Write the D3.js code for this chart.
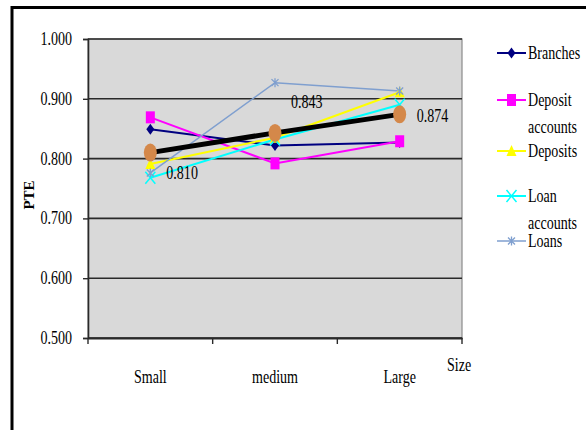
<!DOCTYPE html>
<html><head><meta charset="utf-8">
<script src="https://cdn.jsdelivr.net/npm/d3@7"></script>
<style>body{margin:0;background:#fff}svg{display:block}</style>
</head><body>
<svg id="c" width="586" height="430"></svg>
<script>
const categories = ["Small", "medium", "Large"];
const seriesNames = ["Branches", "Deposit accounts", "Deposits", "Loan accounts", "Loans"];
const branches = [0.849, 0.822, 0.827];
const depositAccounts = [0.869, 0.792, 0.829];
const deposits = [0.791, 0.835, 0.911];
const loanAccounts = [0.768, 0.832, 0.890];
const loans = [0.776, 0.927, 0.913];
const average = [0.810, 0.843, 0.874];
const yTicks = [0.5, 0.6, 0.7, 0.8, 0.9, 1.0];

const svg = d3.select("#c");
const FONT = "Liberation Serif, DejaVu Serif, serif";
function txt(g, x, y, s, opts = {}) {
  const t = g.append("text")
    .attr("transform", `translate(${x},${y}) scale(${opts.sx || 0.78},1)${opts.rot ? " rotate(" + opts.rot + ")" : ""}`)
    .style("font-family", FONT)
    .style("font-size", (opts.size || 18) + "px")
    .attr("text-anchor", opts.anchor || "start")
    .attr("fill", "#000")
    .text(s);
  if (opts.bold) t.style("font-weight", "bold");
  return t;
}

// outer frame
svg.append("path").attr("d", "M12,430 V7.5 H586").attr("fill", "none").attr("stroke", "#000").attr("stroke-width", 3);

const L = 88, R = 462, T = 39, B = 338;
const x = d3.scaleBand().domain(categories).range([L, R]);
const y = d3.scaleLinear().domain([0.5, 1.0]).range([B, T]);
const cx = c => x(c) + x.bandwidth() / 2;

svg.append("rect").attr("x", L).attr("y", T).attr("width", R - L).attr("height", B - T)
  .attr("fill", "#d9d9d9").attr("stroke", "#8a8a8a").attr("stroke-width", 1.2);

// gridlines
svg.append("g").selectAll("line").data(yTicks).join("line")
  .attr("x1", L).attr("x2", R).attr("y1", d => y(d)).attr("y2", d => y(d))
  .attr("stroke", "#2a2a2a").attr("stroke-width", 1.6);

// y axis
const yAxis = svg.append("g").attr("transform", `translate(${L},0)`)
  .call(d3.axisLeft(y).tickValues(yTicks).tickSize(5).tickFormat(""));
yAxis.select(".domain").attr("stroke", "#2a2a2a").attr("stroke-width", 1.6);
yAxis.selectAll(".tick line").attr("stroke", "#2a2a2a").attr("stroke-width", 1.4);
yTicks.forEach(v => txt(svg, 72, y(v) + 6, d3.format(".3f")(v), { anchor: "end" }));

// x axis
const xAxis = svg.append("g").attr("transform", `translate(0,${B})`)
  .call(d3.axisBottom(x).tickSize(0).tickFormat(""));
xAxis.select(".domain").attr("stroke", "#2a2a2a").attr("stroke-width", 1.8);
const bounds = [L, ...categories.map(c => x(c) + x.bandwidth())];
svg.append("g").selectAll("line").data(bounds).join("line")
  .attr("x1", d => d).attr("x2", d => d).attr("y1", B).attr("y2", B + 6)
  .attr("stroke", "#2a2a2a").attr("stroke-width", 1.4);
categories.forEach(c => txt(svg, cx(c), 383, c, { anchor: "middle" }));
txt(svg, 447, 371, "Size");
txt(svg, 34, 195, "PTE", { anchor: "middle", rot: -90, bold: true, size: 15, sx: 1 });

// series
const series = [
  { name: seriesNames[0], vals: branches, color: "#000080", w: 2, marker: "diamond" },
  { name: seriesNames[1], vals: depositAccounts, color: "#ff00ff", w: 2, marker: "square" },
  { name: seriesNames[2], vals: deposits, color: "#ffff00", w: 2, marker: "triangle" },
  { name: seriesNames[3], vals: loanAccounts, color: "#00ffff", w: 2, marker: "x" },
  { name: seriesNames[4], vals: loans, color: "#7f9fcf", w: 1.5, marker: "star" }
];
const line = d3.line().x((d, i) => cx(categories[i])).y(d => y(d));

function marker(g, type, px, py, color) {
  if (type === "diamond") {
    g.append("path").attr("d", `M${px},${py - 5.5}L${px + 4},${py}L${px},${py + 5.5}L${px - 4},${py}Z`).attr("fill", color);
  } else if (type === "square") {
    g.append("rect").attr("x", px - 4.5).attr("y", py - 6).attr("width", 9).attr("height", 12).attr("fill", color);
  } else if (type === "triangle") {
    g.append("path").attr("d", `M${px},${py - 6}L${px + 5},${py + 5}L${px - 5},${py + 5}Z`).attr("fill", color);
  } else if (type === "x") {
    g.append("path").attr("d", `M${px - 5},${py - 6}L${px + 5},${py + 6}M${px + 5},${py - 6}L${px - 5},${py + 6}`)
      .attr("stroke", color).attr("stroke-width", 1.5);
  } else if (type === "star") {
    g.append("path").attr("d", `M${px - 3.5},${py - 3.5}L${px + 3.5},${py + 3.5}M${px + 3.5},${py - 3.5}L${px - 3.5},${py + 3.5}M${px},${py - 4.5}V${py + 4.5}`)
      .attr("stroke", color).attr("stroke-width", 1.3);
  }
}

const sg = svg.append("g");
series.forEach(s => {
  sg.append("path").datum(s.vals).attr("d", line).attr("fill", "none")
    .attr("stroke", s.color).attr("stroke-width", s.w);
});
series.forEach(s => {
  s.vals.forEach((v, i) => marker(sg, s.marker, cx(categories[i]), y(v), s.color));
});

// average line
svg.append("path").datum(average).attr("d", line).attr("fill", "none")
  .attr("stroke", "#000").attr("stroke-width", 5);
svg.append("g").selectAll("ellipse").data(average).join("ellipse")
  .attr("cx", (d, i) => cx(categories[i])).attr("cy", d => y(d))
  .attr("rx", 6.5).attr("ry", 9).attr("fill", "#d4884a");
const labelOffsets = [[16, 26], [16, -25], [17, 8]];
average.forEach((v, i) => txt(svg, cx(categories[i]) + labelOffsets[i][0], y(v) + labelOffsets[i][1], d3.format(".3f")(v)));

// legend
const legendRows = [
  { lineY: 53, text: ["Branches"] },
  { lineY: 100, text: ["Deposit", "accounts"] },
  { lineY: 151, text: ["Deposits"] },
  { lineY: 196, text: ["Loan", "accounts"] },
  { lineY: 241, text: ["Loans"] }
];
series.forEach((s, i) => {
  const r = legendRows[i];
  svg.append("line").attr("x1", 497).attr("x2", 526).attr("y1", r.lineY).attr("y2", r.lineY)
    .attr("stroke", s.color).attr("stroke-width", s.w);
  marker(svg, s.marker, 511.5, r.lineY, s.color);
  r.text.forEach((t, j) => txt(svg, 528, r.lineY + 6 + j * 27, t));
});
</script>
</body></html>
